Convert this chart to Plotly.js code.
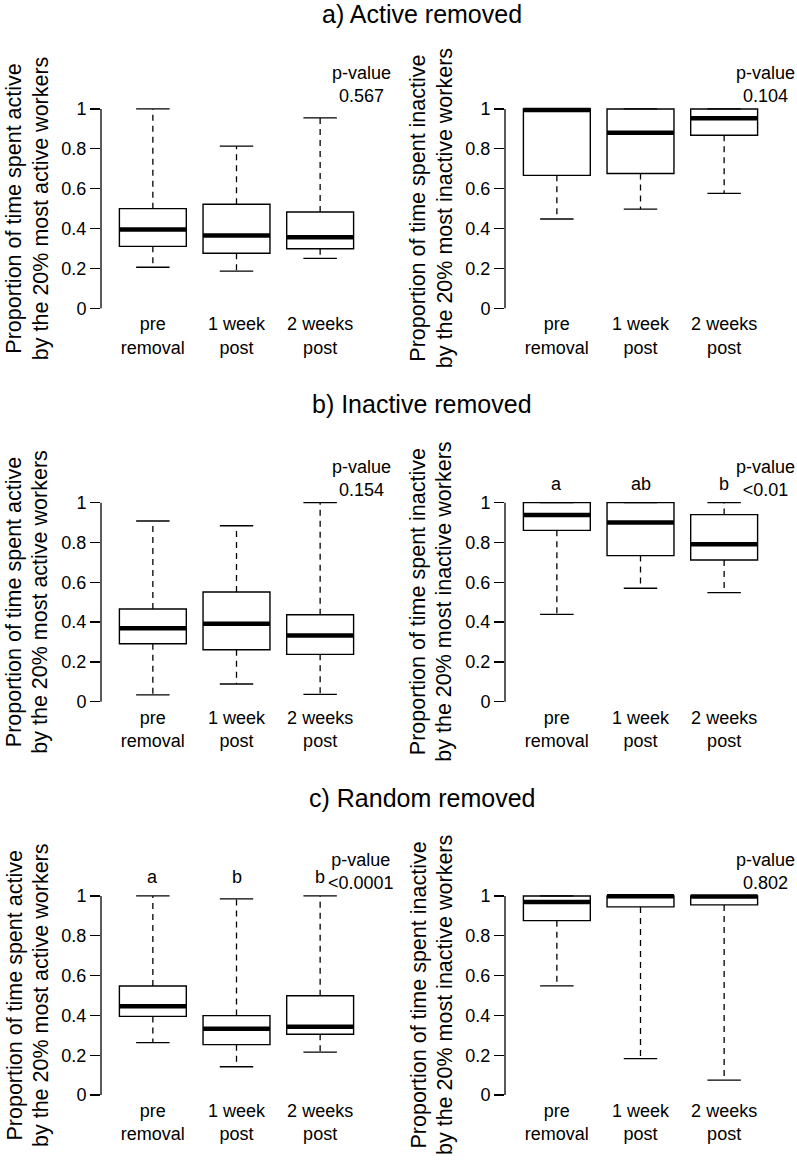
<!DOCTYPE html>
<html>
<head>
<meta charset="utf-8">
<script src="https://cdn.plot.ly/plotly-3.0.1.min.js"></script>
<style>html,body{margin:0;padding:0;background:#fff;}#chart{width:797px;height:1163px;}</style>
</head>
<body>
<div id="chart"></div>
<script>
// ---- data ----
const categories = ["pre<br>removal", "1 week<br>post", "2 weeks<br>post"];
const rowTitles = ["a) Active removed", "b) Inactive removed", "c) Random removed"];
const yTitleActive = ["Proportion of time spent active", "by the 20% most active workers"];
const yTitleInactive = ["Proportion of time spent inactive", "by the 20% most inactive workers"];
const yTicks = [0, 0.2, 0.4, 0.6, 0.8, 1];

// a) Active removed – active workers
const aActLow  = [0.206, 0.187, 0.251];
const aActQ1   = [0.311, 0.276, 0.299];
const aActMed  = [0.396, 0.365, 0.356];
const aActQ3   = [0.500, 0.522, 0.483];
const aActHigh = [1.000, 0.814, 0.955];
// a) Active removed – inactive workers
const aInaLow  = [0.448, 0.498, 0.577];
const aInaQ1   = [0.667, 0.676, 0.868];
const aInaMed  = [0.995, 0.881, 0.953];
const aInaQ3   = [1.000, 1.000, 1.000];
const aInaHigh = [1.000, 1.000, 1.000];
// b) Inactive removed – active workers
const bActLow  = [0.034, 0.089, 0.037];
const bActQ1   = [0.291, 0.261, 0.238];
const bActMed  = [0.369, 0.392, 0.333];
const bActQ3   = [0.466, 0.551, 0.437];
const bActHigh = [0.908, 0.884, 1.000];
// b) Inactive removed – inactive workers
const bInaLow  = [0.439, 0.570, 0.548];
const bInaQ1   = [0.861, 0.734, 0.712];
const bInaMed  = [0.938, 0.900, 0.791];
const bInaQ3   = [1.000, 1.000, 0.940];
const bInaHigh = [1.000, 1.000, 1.000];
// c) Random removed – active workers
const cActLow  = [0.263, 0.142, 0.216];
const cActQ1   = [0.395, 0.253, 0.305];
const cActMed  = [0.446, 0.333, 0.343];
const cActQ3   = [0.548, 0.399, 0.499];
const cActHigh = [1.000, 0.985, 1.000];
// c) Random removed – inactive workers
const cInaLow  = [0.548, 0.183, 0.075];
const cInaQ1   = [0.876, 0.945, 0.955];
const cInaMed  = [0.970, 0.998, 0.997];
const cInaQ3   = [1.000, 1.000, 1.000];
const cInaHigh = [1.000, 1.000, 1.000];

const pValues = ["0.567", "0.104", "0.154", "&lt;0.01", "&lt;0.0001", "0.802"];
const bInaLetters = ["a", "ab", "b"];
const cActLetters = ["a", "b", "b"];

// ---- drawing ----
const FONT = "Liberation Sans, Arial, sans-serif";
const BOXW = 0.8, CAPW = 0.4;
const Y_RANGE = [-0.04, 1.04];
const idx = categories.map((_, i) => i);
const toDom = v => (v - Y_RANGE[0]) / (Y_RANGE[1] - Y_RANGE[0]);

function panel(n, low, q1, med, q3, high) {
  const xa = n === 1 ? "x" : "x" + n;
  const ya = n === 1 ? "y" : "y" + n;
  const box = {
    type: "box", x: idx, q1: q1, median: med, q3: q3,
    lowerfence: q1, upperfence: q3, width: BOXW,
    fillcolor: "#ffffff", line: {color: "#000", width: 1.4},
    boxpoints: false, hoverinfo: "skip", showlegend: false, xaxis: xa, yaxis: ya
  };
  const wx = [], wy = [], cx = [], cy = [], mx = [], my = [];
  idx.forEach(i => {
    wx.push(i, i, null, i, i, null);
    wy.push(q3[i], high[i], null, q1[i], low[i], null);
    cx.push(i - CAPW / 2, i + CAPW / 2, null, i - CAPW / 2, i + CAPW / 2, null);
    cy.push(high[i], high[i], null, low[i], low[i], null);
    mx.push(i - BOXW / 2, i + BOXW / 2, null);
    my.push(med[i], med[i], null);
  });
  const base = {type: "scatter", mode: "lines", hoverinfo: "skip", showlegend: false, xaxis: xa, yaxis: ya, cliponaxis: false};
  return [
    box,
    Object.assign({}, base, {x: wx, y: wy, line: {color: "#000", width: 1.3, dash: "6px,5px"}}),
    Object.assign({}, base, {x: cx, y: cy, line: {color: "#000", width: 1.3}}),
    Object.assign({}, base, {x: mx, y: my, line: {color: "#000", width: 4.5}})
  ];
}

const data = [].concat(
  panel(1, aActLow, aActQ1, aActMed, aActQ3, aActHigh),
  panel(2, aInaLow, aInaQ1, aInaMed, aInaQ3, aInaHigh),
  panel(3, bActLow, bActQ1, bActMed, bActQ3, bActHigh),
  panel(4, bInaLow, bInaQ1, bInaMed, bInaQ3, bInaHigh),
  panel(5, cActLow, cActQ1, cActMed, cActQ3, cActHigh),
  panel(6, cInaLow, cInaQ1, cInaMed, cInaQ3, cInaHigh)
);

const W = 797, H = 1163;
const xDomL = [101 / W, 372 / W], xDomR = [505 / W, 776 / W];
const yDoms = [[1 - 316.3 / H, 1 - 101 / H], [1 - 709.7 / H, 1 - 494.7 / H], [1 - 1103 / H, 1 - 888 / H]];
const titleY = [13.5, 404, 797.5];

const layout = {
  width: W, height: H, margin: {l: 0, r: 0, t: 0, b: 0},
  paper_bgcolor: "#fff", plot_bgcolor: "#fff",
  font: {family: FONT, color: "#000", size: 18},
  showlegend: false, annotations: [], shapes: []
};

for (let n = 1; n <= 6; n++) {
  const row = Math.floor((n - 1) / 2), left = (n % 2 === 1);
  const xk = n === 1 ? "xaxis" : "xaxis" + n;
  const yk = n === 1 ? "yaxis" : "yaxis" + n;
  const xr = n === 1 ? "x" : "x" + n;
  const yr = n === 1 ? "y" : "y" + n;
  layout[xk] = {
    domain: left ? xDomL : xDomR, anchor: yr, range: [-0.62, 2.62],
    tickvals: idx, ticktext: categories, ticks: "", showline: false, ticklabelstandoff: -5,
    showgrid: false, zeroline: false, tickfont: {size: 18, family: FONT, color: "#000"},
    fixedrange: true
  };
  layout[yk] = {
    domain: yDoms[row], anchor: xr, range: Y_RANGE,
    tickvals: yTicks, ticktext: yTicks.map(String), ticks: "outside", ticklen: 10, tickwidth: 1.3, tickcolor: "#000",
    showline: false, showgrid: false, zeroline: false,
    tickfont: {size: 18, family: FONT, color: "#000"}, fixedrange: true
  };
  layout.shapes.push({type: "line", xref: xr + " domain", yref: yr, x0: 0, x1: 0, y0: 0, y1: 1,
    line: {color: "#000", width: 1.3}});
  // y-axis title, two lines
  const t = left ? yTitleActive : yTitleInactive;
  const ax = left ? 101 : 505;
  [ax - 87, ax - 60.5].forEach((px, k) => layout.annotations.push({
    xref: "paper", yref: yr + " domain", x: px / W, y: 0.5, borderpad: 0,
    xanchor: "center", yanchor: "middle", textangle: -90, showarrow: false,
    text: t[k], font: {size: 21.5, family: FONT, color: "#000"}
  }));
  // p-value
  layout.annotations.push({
    xref: xr, yref: yr + " domain", x: 2.49, y: toDom(1.122), xanchor: "center", yanchor: "middle",
    showarrow: false, text: "p-value<br>" + pValues[n - 1], font: {size: 18, family: FONT, color: "#000"}
  });
}
// group letters
bInaLetters.forEach((t, i) => layout.annotations.push({xref: "x4", yref: "y4 domain", x: i, y: toDom(1.094), text: t,
  showarrow: false, xanchor: "center", yanchor: "middle", font: {size: 18, family: FONT, color: "#000"}}));
cActLetters.forEach((t, i) => layout.annotations.push({xref: "x5", yref: "y5 domain", x: i, y: toDom(1.094), text: t,
  showarrow: false, xanchor: "center", yanchor: "middle", font: {size: 18, family: FONT, color: "#000"}}));
// row titles
rowTitles.forEach((t, r) => layout.annotations.push({xref: "paper", yref: "paper", x: 422 / W, y: 1 - titleY[r] / H,
  text: t, showarrow: false, xanchor: "center", yanchor: "middle", font: {size: 25, family: FONT, color: "#000"}}));

Plotly.newPlot("chart", data, layout, {staticPlot: true, displayModeBar: false});
</script>
</body>
</html>
